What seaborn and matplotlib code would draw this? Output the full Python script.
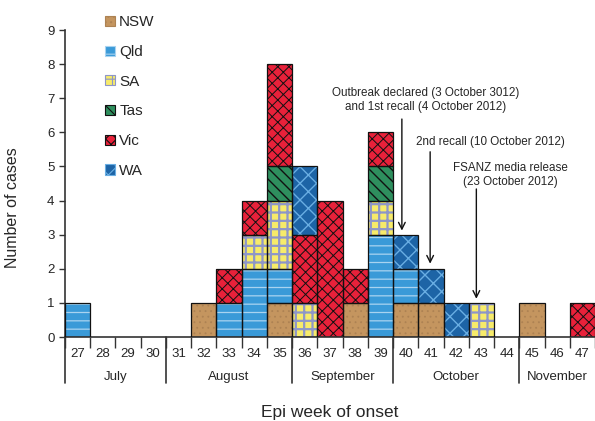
import matplotlib
matplotlib.use("Agg")
import matplotlib.pyplot as plt
from matplotlib.patches import Rectangle, Patch
from matplotlib.transforms import blended_transform_factory
import numpy as np
import pandas as pd
import seaborn as sns

# epi weeks shown on the axis
weeks = list(range(27, 48))

# cases per state, one row per (week, count)
nsw = {32: 1, 35: 1, 38: 1, 40: 1, 41: 1, 45: 1}
qld = {27: 1, 33: 1, 34: 2, 35: 1, 39: 3, 40: 1}
sa = {34: 1, 35: 2, 36: 1, 39: 1, 43: 1}
tas = {35: 1, 39: 1}
vic = {33: 1, 34: 1, 35: 3, 36: 2, 37: 4, 38: 1, 39: 1, 47: 1}
wa = {36: 2, 40: 1, 41: 1, 42: 1}

states = ["NSW", "Qld", "SA", "Tas", "Vic", "WA"]
state_counts = [nsw, qld, sa, tas, vic, wa]

months = ["July", "August", "September", "October", "November"]
month_starts = [27, 31, 36, 40, 45]
month_ends = [30, 35, 39, 44, 47]

# look of each state: face, hatch, hatch colour, hatch width
face = {"NSW": "#C4955F", "Qld": "#3A9AD8", "SA": "#F7EB6A",
        "Tas": "#2E8F5E", "Vic": "#E8213A", "WA": "#1D64A6"}
hatch = {"NSW": "...", "Qld": "--", "SA": "++", "Tas": "\\\\\\",
         "Vic": "xxx", "WA": "xx"}
hatch_col = {"NSW": "#AD8253", "Qld": "#A9D3F0", "SA": "#8E96C8",
             "Tas": "#111111", "Vic": "#111111", "WA": "#69AEE3"}
hatch_lw = {"NSW": 0.6, "Qld": 0.9, "SA": 1.6, "Tas": 1.0,
            "Vic": 0.7, "WA": 1.0}

rows = []
for st, d in zip(states, state_counts):
    for w in weeks:
        rows.append({"week": w, "state": st, "cases": d.get(w, 0)})
df = pd.DataFrame(rows)

sns.set_theme(style="ticks")
plt.rcParams["font.family"] = ["Liberation Sans", "DejaVu Sans"]
plt.rcParams["hatch.linewidth"] = 0.8

fig = plt.figure(figsize=(5.95, 4.21), dpi=100)
ax = fig.add_axes([0.109, 0.1995, 0.891, 0.7292])

# seaborn stacks the last hue level at the bottom
ax = sns.histplot(data=df, x="week", weights="cases", hue="state",
                  hue_order=states[::-1], palette=face, multiple="stack",
                  discrete=True, shrink=1, alpha=1, linewidth=0,
                  legend=False, ax=ax)


def style_patch(p, st):
    p.set_hatch(hatch[st])
    p.set_edgecolor(hatch_col[st])
    if hasattr(p, "set_hatch_linewidth"):
        p.set_hatch_linewidth(hatch_lw[st])


lookup = {matplotlib.colors.to_hex(c): s for s, c in face.items()}
for p in list(ax.patches):
    st = lookup.get(matplotlib.colors.to_hex(p.get_facecolor()))
    if st is None:
        continue
    if p.get_height() <= 0:
        p.set_visible(False)
        continue
    style_patch(p, st)
    p.set_linewidth(0)
    ax.add_patch(Rectangle(p.get_xy(), p.get_width(), p.get_height(),
                           fill=False, edgecolor="#111111", lw=0.9, zorder=3))

ax.set_xlim(26.5, 47.12)
ax.set_ylim(0, 9)
ax.set_yticks(range(0, 10))
ax.tick_params(axis="y", labelsize=9.5, length=4, width=1, color="#333333")
ax.set_ylabel("Number of cases", fontsize=11.5, labelpad=12)
ax.yaxis.set_label_coords(-0.085, 0.42)
ax.set_xlabel("")

# week labels + small separator ticks
ax.set_xticks(weeks)
ax.set_xticklabels([str(w) for w in weeks], fontsize=9.5)
ax.tick_params(axis="x", which="major", length=0, pad=8)
ax.set_xticks(np.arange(26.5, 48, 1), minor=True)
ax.tick_params(axis="x", which="minor", length=8, width=1, color="#333333")

sns.despine(ax=ax)
for sp in ("left", "bottom"):
    ax.spines[sp].set_color("#333333")
    ax.spines[sp].set_linewidth(1.2)

# month groups below the week numbers
trans = blended_transform_factory(ax.transData, ax.transAxes)
for s, e, m in zip(month_starts, month_ends, months):
    ax.plot([s - 0.5, s - 0.5], [0, -0.15], transform=trans, color="#333333",
            lw=1.2, clip_on=False)
    ax.text((s + e) / 2, -0.13, m, transform=trans, ha="center",
            va="center", fontsize=9.5)
ax.text(0.5, -0.245, "Epi week of onset", transform=ax.transAxes,
        ha="center", va="center", fontsize=12.5)

# event annotations
arrow = dict(arrowstyle="->", color="#111111", lw=1, shrinkA=0, shrinkB=0)
ax.annotate("", xy=(39.85, 3.12), xytext=(39.85, 6.39), arrowprops=arrow)
ax.annotate("", xy=(40.97, 2.15), xytext=(40.97, 5.43), arrowprops=arrow)
ax.annotate("", xy=(42.8, 1.12), xytext=(42.8, 4.34), arrowprops=arrow)
ax.text(40.8, 6.95, "Outbreak declared (3 October 3012)\nand 1st recall (4 October 2012)",
        ha="center", va="center", fontsize=8.4, linespacing=1.2)
ax.text(43.35, 5.72, "2nd recall (10 October 2012)", ha="center",
        va="center", fontsize=8.4)
ax.text(44.15, 4.75, "FSANZ media release\n(23 October 2012)", ha="center",
        va="center", fontsize=8.4, linespacing=1.2)

handles = [Patch(facecolor=face[s], hatch=hatch[s], edgecolor=hatch_col[s],
                 lw=0.8) for s in states]
ax.legend(handles, states, loc="upper left", bbox_to_anchor=(0.065, 1.068),
          frameon=False, fontsize=11, handlelength=0.65, handleheight=0.65,
          handletextpad=0.25, labelspacing=1.03, borderaxespad=0)

fig.savefig("out.png", dpi=100)
